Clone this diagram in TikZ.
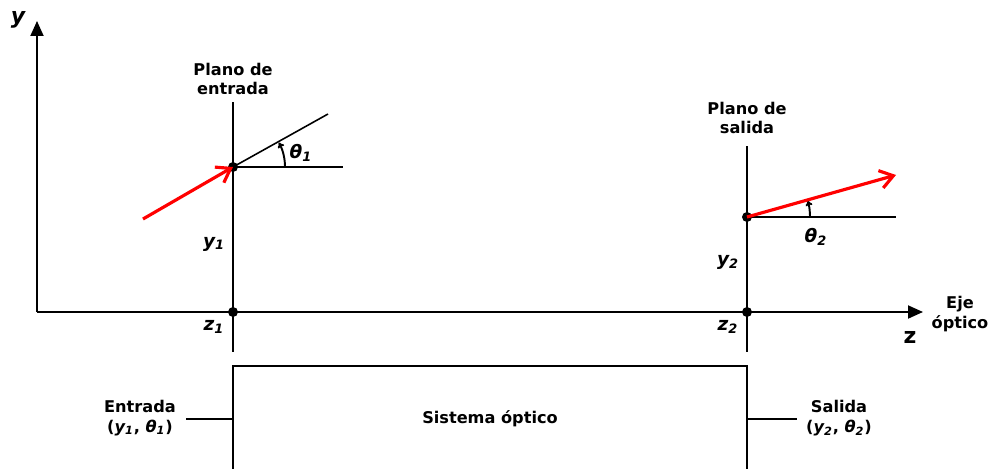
\documentclass[tikz,border=0pt]{standalone}
\usepackage{fontspec}
\setmainfont{DejaVu Sans}
\usetikzlibrary{arrows.meta}
\definecolor{RayRed}{HTML}{FF0000}

\begin{document}
\begin{tikzpicture}[x=0.02cm,y=0.02cm,line width=1.1pt,
    every node/.style={font=\fontsize{9.2}{11}\selectfont\bfseries},
    dot/.style={circle,fill=black,inner sep=0pt,minimum size=0.2cm},
    ray/.style={RayRed,line width=1.8pt,-{Straight Barb[length=0.26cm,width=0.36cm,line width=1.8pt]}},
    axis/.style={line width=1.1pt,-{Triangle[length=0.3cm,width=0.26cm]}},
    sym/.style={font=\fontsize{10.5}{12}\selectfont\bfseries\itshape},
    io/.style={font=\fontsize{9.2}{11}\selectfont\bfseries,align=center}]
    \useasboundingbox (0,0) rectangle (993,468);
    % axes
    \coordinate (origin) at (37,156);
    \coordinate (ytip) at (37,447);
    \coordinate (ztip) at (923,156);
    \draw[axis] (origin) -- (ytip);
    \draw[axis] (origin) -- (ztip);
    \node[sym,font=\fontsize{12.5}{14}\selectfont\bfseries\itshape] (ylabel) at (18,448) {y};
    \node[font=\fontsize{12.5}{14}\selectfont\bfseries] (zlabel) at (910,131) {z};
    \node[align=center] (axisname) at (960,154) {Eje\\óptico};
    % entrance plane
    \node[dot] (p1) at (233,301) {};
    \node[dot] (z1) at (233,156) {};
    \coordinate (intop) at (233,366);
    \coordinate (inbot) at (233,116);
    \coordinate (inhor) at (343,301);
    \coordinate (inslant) at (328,354);
    \coordinate (instart) at (143,249);
    \draw (intop) -- (inbot);
    \draw (p1.center) -- (inhor);
    \draw[line width=0.9pt] (p1.center) -- (inslant);
    \draw[-{To[length=3pt,width=4pt]}] ([shift={(0:52)}]p1.center) arc[start angle=0,end angle=28,radius=52];
    \draw[ray] (instart) -- (p1.center);
    \node[align=center] (inname) at (233,389) {Plano de\\entrada};
    \node[sym] (theta1) at (301,315) {θ\textsubscript{1}};
    \node[sym] (y1) at (214,224) {y\textsubscript{1}};
    \node[sym] (z1label) at (214,141) {z\textsubscript{1}};
    % exit plane
    \node[dot] (p2) at (747,251) {};
    \node[dot] (z2) at (747,156) {};
    \coordinate (outtop) at (747,322);
    \coordinate (outbot) at (747,116);
    \coordinate (outhor) at (896,251);
    \coordinate (outend) at (896,293);
    \draw (outtop) -- (outbot);
    \draw (p2.center) -- (outhor);
    \draw[-{To[length=3pt,width=4pt]}] ([shift={(0:63)}]p2.center) arc[start angle=0,end angle=15,radius=63];
    \draw[ray] (p2.center) -- (outend);
    \node[align=center] (outname) at (747,350) {Plano de\\salida};
    \node[sym] (theta2) at (816,231) {θ\textsubscript{2}};
    \node[sym] (y2) at (728,206) {y\textsubscript{2}};
    \node[sym] (z2label) at (728,141) {z\textsubscript{2}};
    % optical system block
    \node[draw,minimum width=10.28cm,minimum height=2.12cm] (system) at (490,49) {Sistema óptico};
    \node[io] (input) at (140,50) {Entrada\\(\textit{y\textsubscript{1}}, \textit{θ\textsubscript{1}})};
    \node[io] (output) at (839,50) {Salida\\(\textit{y\textsubscript{2}}, \textit{θ\textsubscript{2}})};
    \coordinate (instub) at (186,49);
    \coordinate (outstub) at (797,49);
    \draw (instub) -- (system.west);
    \draw (system.east) -- (outstub);
  \end{tikzpicture}
\end{document}
